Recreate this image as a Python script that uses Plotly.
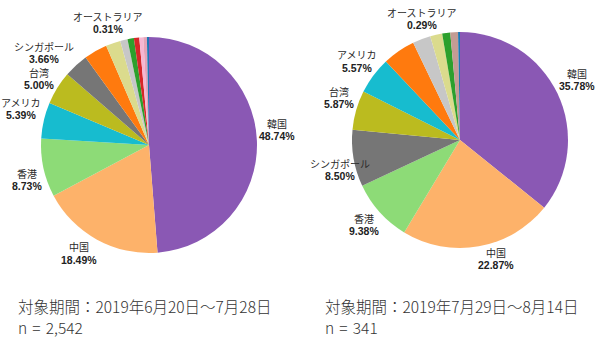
import plotly.graph_objects as go

# ---- data ----
left_labels = ["韓国", "中国", "香港", "アメリカ", "台湾", "シンガポール",
               "その他A", "その他B", "その他C", "その他D", "その他E", "その他F", "その他G", "オーストラリア"]
left_values = [48.74, 18.49, 8.73, 5.39, 5.00, 3.66,
               3.50, 2.20, 1.10, 0.95, 0.80, 0.60, 0.53, 0.31]
left_colors = ["#8a58b4", "#fdb26a", "#8ddb77", "#17bccf", "#bbbb1f", "#767676",
               "#ff7a0e", "#dbdb8d", "#c7c7c7", "#2ca02c", "#d62728", "#f7b6d2", "#e6a3b8", "#1f77b4"]

right_labels = ["韓国", "中国", "香港", "シンガポール", "台湾", "アメリカ",
                "その他A", "その他C", "その他B", "その他D", "その他H", "オーストラリア"]
right_values = [35.78, 22.87, 9.38, 8.50, 5.87, 5.57,
                4.90, 2.70, 1.80, 1.20, 1.15, 0.29]
right_colors = ["#8a58b4", "#fdb26a", "#8ddb77", "#767676", "#bbbb1f", "#17bccf",
                "#ff7a0e", "#c7c7c7", "#dbdb8d", "#2ca02c", "#c49c94", "#1f77b4"]

left_shown = ["韓国", "中国", "香港", "アメリカ", "台湾", "シンガポール", "オーストラリア"]
right_shown = ["韓国", "中国", "香港", "シンガポール", "台湾", "アメリカ", "オーストラリア"]

left_caption = ["対象期間：2019年6月20日～7月28日", "n = 2,542"]
right_caption = ["対象期間：2019年7月29日～8月14日", "n = 341"]

# ---- layout positions (pixels): (x, y of name line) ----
W, H = 600, 339
left_pos = {"韓国": (277, 123), "中国": (79, 247), "香港": (27, 173), "アメリカ": (21, 102),
            "台湾": (39, 72), "シンガポール": (44, 46), "オーストラリア": (108, 16)}
right_pos = {"韓国": (577, 73), "中国": (496, 252), "香港": (364, 218), "シンガポール": (340, 163),
             "台湾": (339, 91), "アメリカ": (357, 55), "オーストラリア": (422, 12)}
LINE_GAP = 13

def px_x(x):
    return x / W

def px_y(y):
    return 1 - y / H

fig = go.Figure()
for labels, values, colors, dom in [
    (left_labels, left_values, left_colors, ((41, 257), (37, 253))),
    (right_labels, right_values, right_colors, ((352, 568), (32, 248))),
]:
    fig.add_trace(go.Pie(
        labels=labels, values=values, sort=False, direction="clockwise", rotation=0,
        marker=dict(colors=colors, line=dict(width=0)),
        textinfo="none", hoverinfo="label+percent", showlegend=False,
        domain=dict(x=[px_x(dom[0][0]), px_x(dom[0][1])],
                    y=[px_y(dom[1][1]), px_y(dom[1][0])]),
    ))

cjk = "Noto Sans CJK JP"
latin = "Liberation Sans, Arial, sans-serif"
annotations = []
for labels, values, shown, pos in [
    (left_labels, left_values, left_shown, left_pos),
    (right_labels, right_values, right_shown, right_pos),
]:
    for name in shown:
        v = values[labels.index(name)]
        x, y = pos[name]
        annotations.append(dict(
            x=px_x(x), y=px_y(y), xref="paper", yref="paper",
            text=name, showarrow=False,
            font=dict(family=cjk, size=10, color="#2a2a2a"),
            xanchor="center", yanchor="middle", borderpad=0,
        ))
        annotations.append(dict(
            x=px_x(x), y=px_y(y + LINE_GAP), xref="paper", yref="paper",
            text=f"<b>{v:.2f}%</b>", showarrow=False,
            font=dict(family=latin, size=10.5, color="#222"),
            xanchor="center", yanchor="middle", borderpad=0,
        ))

for cap, x0 in [(left_caption, 17), (right_caption, 324)]:
    for i, line in enumerate(cap):
        annotations.append(dict(
            x=px_x(x0), y=px_y(306 + 21 * i), xref="paper", yref="paper",
            text=line.replace(" ", "\u2004"), showarrow=False,
            font=dict(family=cjk, size=15.5, color="#333", weight=300),
            xanchor="left", yanchor="middle", borderpad=0,
        ))

fig.update_layout(
    width=W, height=H, margin=dict(l=0, r=0, t=0, b=0),
    paper_bgcolor="white", plot_bgcolor="white",
    annotations=annotations,
)

fig.write_html("out.html")
